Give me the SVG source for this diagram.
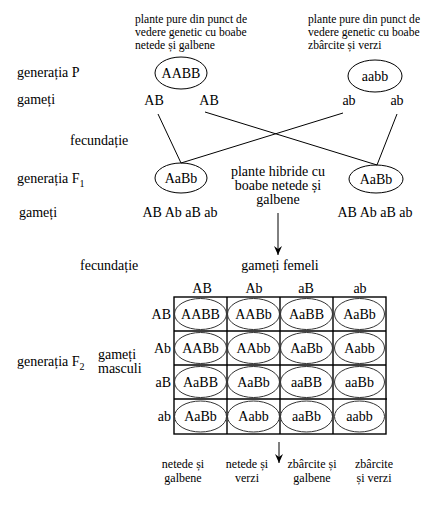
<svg xmlns="http://www.w3.org/2000/svg" width="440" height="520" viewBox="0 0 440 520" font-family="'Liberation Serif', 'DejaVu Serif', 'Times New Roman', serif">
<defs>
<style>
text{font-family:'Liberation Serif','DejaVu Serif','Times New Roman',serif;fill:#000}
.t14{font-size:14px}
.t12{font-size:12px}
.t115{font-size:11.6px}
.c{text-anchor:middle}
.r{text-anchor:end}
.e{fill:none;stroke:#000;stroke-width:1}
.ln{stroke:#000;stroke-width:1;fill:none}
.g{stroke:#000;stroke-width:1.4;fill:none}
.ec{fill:none;stroke:#333;stroke-width:1}
</style>
<marker id="ah" markerWidth="10" markerHeight="8" refX="9" refY="4" orient="auto" markerUnits="userSpaceOnUse" viewBox="0 0 10 8">
<path d="M0,0 L9,4 L0,8 L3,4 Z" fill="#000"/>
</marker>
</defs>
<rect width="440" height="520" fill="#fff"/>

<g id="labels-left">
<text class="t14" x="17" y="77">generația P</text>
<text class="t14" x="17" y="104">gameți</text>
<text class="t14" x="70" y="145">fecundație</text>
<text class="t14" x="17" y="183">generația F<tspan font-size="10" dy="4">1</tspan></text>
<text class="t14" x="19" y="217">gameți</text>
<text class="t14" x="80" y="270">fecundație</text>
<text class="t14" x="17" y="366">generația F<tspan font-size="10" dy="4">2</tspan></text>
<text class="t14" x="98" y="359">gameți</text>
<text class="t14" x="98" y="373">masculi</text>
</g>

<g id="desc-p1">
<text class="t115" x="135" y="22.5">plante pure din punct de</text>
<text class="t115" x="135" y="35.5">vedere genetic cu boabe</text>
<text class="t115" x="135" y="48.5">netede și galbene</text>
</g>
<g id="desc-p2">
<text class="t115" x="308" y="22.5">plante pure din punct de</text>
<text class="t115" x="308" y="35.5">vedere genetic cu boabe</text>
<text class="t115" x="308" y="48.5">zbârcite și verzi</text>
</g>

<g id="node-AABB">
<ellipse class="e" cx="181" cy="73" rx="26" ry="16"/>
<text class="t14 c" x="181" y="78">AABB</text>
</g>
<g id="node-aabb">
<ellipse class="e" cx="375" cy="76" rx="27" ry="16"/>
<text class="t14 c" x="375" y="81">aabb</text>
</g>

<g id="gametes-p">
<text class="t14 c" x="154" y="105">AB</text>
<text class="t14 c" x="209" y="105">AB</text>
<text class="t14 c" x="349" y="105">ab</text>
<text class="t14 c" x="397" y="105">ab</text>
</g>

<g id="connectors">
<line class="ln" x1="158" y1="114" x2="181" y2="163"/>
<line class="ln" x1="205" y1="112" x2="377" y2="165"/>
<line class="ln" x1="343" y1="113" x2="181" y2="163"/>
<line class="ln" x1="397" y1="114" x2="377" y2="165"/>
<line class="ln" x1="278" y1="213" x2="278" y2="255" marker-end="url(#ah)"/>
<line class="ln" x1="279" y1="442" x2="279" y2="463" marker-end="url(#ah)"/>
</g>

<g id="node-F1-left">
<ellipse class="e" cx="181" cy="178" rx="26" ry="15"/>
<text class="t14 c" x="181" y="183">AaBb</text>
</g>
<g id="node-F1-right">
<ellipse class="e" cx="376" cy="179" rx="27" ry="14"/>
<text class="t14 c" x="376" y="184">AaBb</text>
</g>

<g id="desc-f1">
<text class="t14 c" x="278" y="176">plante hibride cu</text>
<text class="t14 c" x="278" y="190">boabe netede și</text>
<text class="t14 c" x="278" y="204">galbene</text>
</g>

<g id="gametes-f1">
<text class="t14 c" x="180" y="217">AB Ab aB ab</text>
<text class="t14 c" x="375" y="217">AB Ab aB ab</text>
</g>

<text class="t14 c" x="280" y="270">gameți femeli</text>

<g id="punnett">
<g id="col-headers">
<text class="t14 c" x="202" y="293">AB</text>
<text class="t14 c" x="254" y="293">Ab</text>
<text class="t14 c" x="306" y="293">aB</text>
<text class="t14 c" x="360" y="293">ab</text>
</g>
<g id="row-headers">
<text class="t14 r" x="171" y="319">AB</text>
<text class="t14 r" x="171" y="353">Ab</text>
<text class="t14 r" x="171" y="387">aB</text>
<text class="t14 r" x="171" y="421">ab</text>
</g>
<g id="grid">
<rect class="g" x="174" y="297" width="212" height="137"/>
<line class="g" x1="227" y1="297" x2="227" y2="434"/>
<line class="g" x1="280" y1="297" x2="280" y2="434"/>
<line class="g" x1="333" y1="297" x2="333" y2="434"/>
<line class="g" x1="174" y1="331" x2="386" y2="331"/>
<line class="g" x1="174" y1="365" x2="386" y2="365"/>
<line class="g" x1="174" y1="399" x2="387" y2="399"/>
</g>
<g id="cells">
<ellipse class="ec" cx="200.5" cy="314" rx="26" ry="15.5"/><text class="t14 c" x="200.5" y="319">AABB</text>
<ellipse class="ec" cx="253.5" cy="314" rx="26" ry="15.5"/><text class="t14 c" x="253.5" y="319">AABb</text>
<ellipse class="ec" cx="306.5" cy="314" rx="26" ry="15.5"/><text class="t14 c" x="306.5" y="319">AaBB</text>
<ellipse class="ec" cx="359.5" cy="314" rx="25" ry="15.5"/><text class="t14 c" x="359.5" y="319">AaBb</text>

<ellipse class="ec" cx="200.5" cy="348" rx="26" ry="15.5"/><text class="t14 c" x="200.5" y="353">AABb</text>
<ellipse class="ec" cx="253.5" cy="348" rx="26" ry="15.5"/><text class="t14 c" x="253.5" y="353">AAbb</text>
<ellipse class="ec" cx="306.5" cy="348" rx="26" ry="15.5"/><text class="t14 c" x="306.5" y="353">AaBb</text>
<ellipse class="ec" cx="359.5" cy="348" rx="25" ry="15.5"/><text class="t14 c" x="359.5" y="353">Aabb</text>

<ellipse class="ec" cx="200.5" cy="382" rx="26" ry="15.5"/><text class="t14 c" x="200.5" y="387">AaBB</text>
<ellipse class="ec" cx="253.5" cy="382" rx="26" ry="15.5"/><text class="t14 c" x="253.5" y="387">AaBb</text>
<ellipse class="ec" cx="306.5" cy="382" rx="26" ry="15.5"/><text class="t14 c" x="306.5" y="387">aaBB</text>
<ellipse class="ec" cx="359.5" cy="382" rx="25" ry="15.5"/><text class="t14 c" x="359.5" y="387">aaBb</text>

<ellipse class="ec" cx="200.5" cy="416.5" rx="26" ry="15.5"/><text class="t14 c" x="200.5" y="421">AaBb</text>
<ellipse class="ec" cx="253.5" cy="416.5" rx="26" ry="15.5"/><text class="t14 c" x="253.5" y="421">Aabb</text>
<ellipse class="ec" cx="306.5" cy="416.5" rx="26" ry="15.5"/><text class="t14 c" x="306.5" y="421">aaBb</text>
<ellipse class="ec" cx="359.5" cy="416.5" rx="25" ry="15.5"/><text class="t14 c" x="359.5" y="421">aabb</text>
</g>
</g>

<g id="phenotypes">
<text class="t12 c" x="183" y="468">netede și</text>
<text class="t12 c" x="183" y="482">galbene</text>
<text class="t12 c" x="247" y="468">netede și</text>
<text class="t12 c" x="247" y="482">verzi</text>
<text class="t12 c" x="312" y="468">zbârcite și</text>
<text class="t12 c" x="312" y="482">galbene</text>
<text class="t12 c" x="374" y="468">zbârcite</text>
<text class="t12 c" x="374" y="482">și verzi</text>
</g>
</svg>
